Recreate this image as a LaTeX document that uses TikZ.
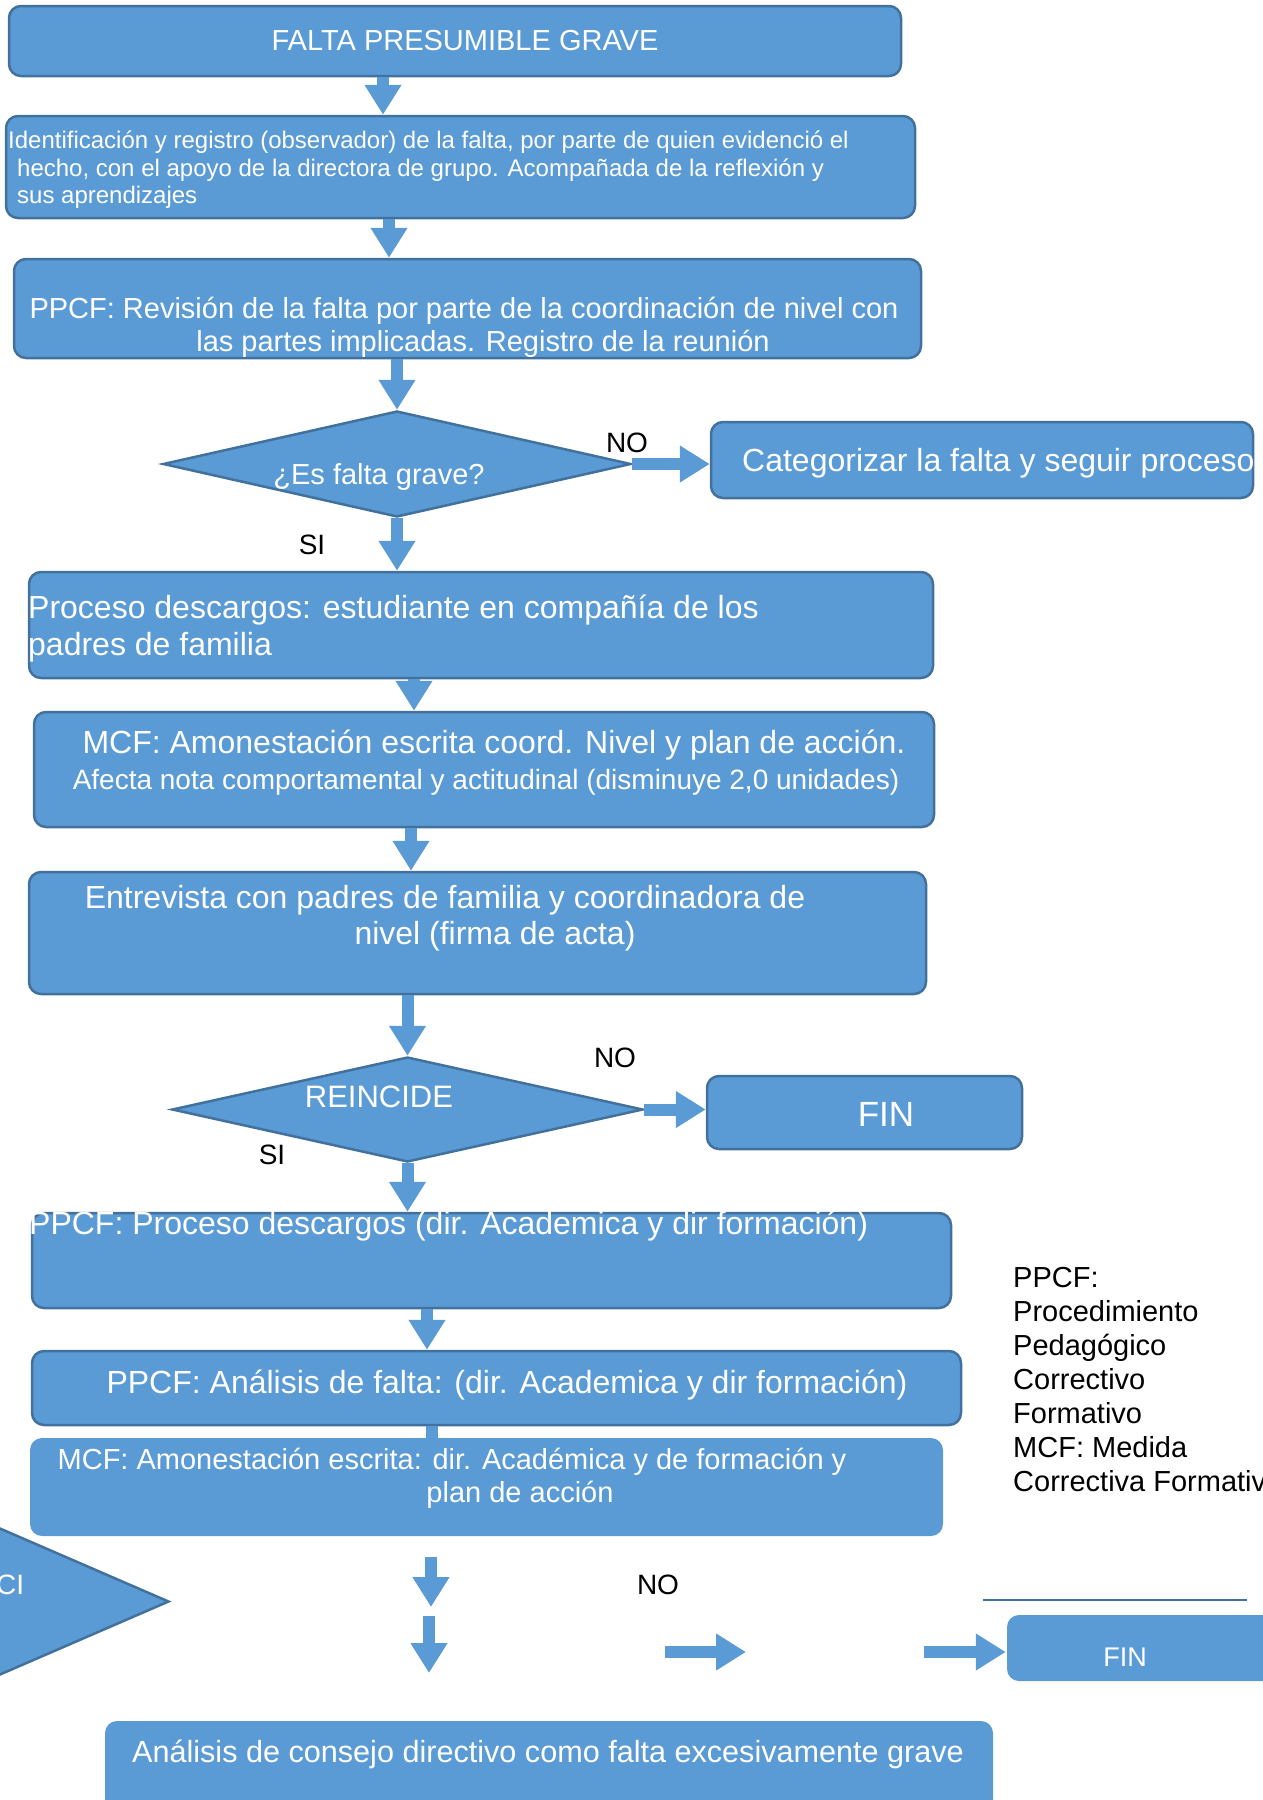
\documentclass[tikz,border=0pt]{standalone}
\usepackage{fontspec}
\setmainfont{Liberation Sans}
\usetikzlibrary{arrows.meta,shapes.geometric}
\definecolor{azul}{HTML}{5B9BD5}
\definecolor{borde}{HTML}{41719C}
\newcommand{\fsz}[2]{\fontsize{#1}{#2}\selectfont}

\begin{document}
\begin{tikzpicture}[x=1pt,y=-1pt,
  caja/.style={rectangle, rounded corners=12pt, fill=azul, draw=borde, line width=2.5pt, inner sep=0},
  cajasin/.style={caja, draw=none},
  rombo/.style={diamond, fill=azul, draw=borde, line width=2.5pt, inner sep=0},
  txt/.style={text=white, inner sep=0, yshift=-2.5pt},
  etq/.style={text=black, inner sep=0, font=\fsz{28}{32}},
  flecha/.style={azul, line width=12pt, -{Triangle[width=35pt,length=30pt]}}]
  \useasboundingbox (0,0) rectangle (1263,1800);
  \clip (0,0) rectangle (1263,1800);

  % cajas y rombos
  \node[caja, minimum width=892pt, minimum height=70pt] (b1) at (455,41) {};
  \node[caja, minimum width=909pt, minimum height=102pt] (b2) at (460.5,167) {};
  \node[caja, minimum width=907pt, minimum height=99pt] (b3) at (467.5,308.5) {};
  \node[rombo, minimum width=468pt, minimum height=106pt] (d1) at (397,464) {};
  \node[caja, minimum width=542pt, minimum height=76pt] (cat) at (982,460) {};
  \node[caja, minimum width=904pt, minimum height=106pt] (b4) at (481,625) {};
  \node[caja, minimum width=900pt, minimum height=115pt] (b5) at (484,769.5) {};
  \node[caja, minimum width=897pt, minimum height=122pt] (b6) at (477.5,933) {};
  \node[rombo, minimum width=471pt, minimum height=105pt] (d2) at (407.5,1109.5) {};
  \node[caja, minimum width=315pt, minimum height=73pt] (fin1) at (864.5,1112.5) {};
  \node[caja, minimum width=919pt, minimum height=95pt] (b7) at (491.5,1260.5) {};
  \node[caja, minimum width=929pt, minimum height=74pt] (b8) at (496.5,1388) {};
  \coordinate (a12fin) at (432,1470);
  \draw[flecha] (b8.south -| 432,0) -- (a12fin);
  \node[cajasin, minimum width=913pt, minimum height=98pt] (b9) at (486.5,1487) {};
  \node[rombo, minimum width=338pt, minimum height=147pt] (d3) at (0,1601.5) {};
  \node[cajasin, minimum width=283pt, minimum height=66pt] (fin2) at (1148.5,1648) {};
  \node[cajasin, minimum width=888pt, minimum height=109pt] (b10) at (549,1775.5) {};

  % flechas
  \draw[flecha] (b1.south -| 383,0) -- (b2.north -| 383,0);
  \draw[flecha] (b2.south -| 389,0) -- (b3.north -| 389,0);
  \draw[flecha] (b3.south -| d1.north) -- (d1.north);
  \draw[flecha] (d1.east) -- (cat.west |- d1.east);
  \draw[flecha] (d1.south) -- (b4.north -| d1.south);
  \draw[flecha] (b4.south -| 414,0) -- (b5.north -| 414,0);
  \draw[flecha] (b5.south -| 411,0) -- (b6.north -| 411,0);
  \draw[flecha] (b6.south -| d2.north) -- (d2.north);
  \draw[flecha] (d2.east) -- (fin1.west |- d2.east);
  \draw[flecha] (d2.south) -- (b7.north -| d2.south);
  \draw[flecha] (b7.south -| 427,0) -- (b8.north -| 427,0);

  \coordinate (p1a) at (431,1557);
  \coordinate (p1b) at (431,1607);
  \coordinate (p2a) at (429,1616);
  \coordinate (p2b) at (429,1673);
  \coordinate (p3a) at (665,1652);
  \coordinate (p3b) at (746,1652);
  \coordinate (p4a) at (924,1652);
  \draw[flecha] (p1a) -- (p1b);
  \draw[flecha] (p2a) -- (p2b);
  \draw[flecha] (p3a) -- (p3b);
  \draw[flecha] (p4a) -- (fin2.west |- p4a);

  \coordinate (r1) at (983,1600);
  \coordinate (r2) at (1247,1600);
  \draw[borde, line width=2.5pt] (r1) -- (r2);

  % textos
  \node[txt, font=\fsz{29}{33}] (t1) at (465,38) {FALTA PRESUMIBLE GRAVE};
  \node[txt, font=\fsz{24}{28}, anchor=west] (t2a) at (8,140) {Identificación y registro (observador) de la falta, por parte de quien evidenció el};
  \node[txt, font=\fsz{24}{28}, anchor=west] (t2b) at (17,168) {hecho, con el apoyo de la directora de grupo. Acompañada de la reflexión y};
  \node[txt, font=\fsz{24}{28}, anchor=west] (t2c) at (17,195) {sus aprendizajes};
  \node[txt, font=\fsz{29}{33}] (t3a) at (464,308) {PPCF: Revisión de la falta por parte de la coordinación de nivel con};
  \node[txt, font=\fsz{29}{33}] (t3b) at (483,341) {las partes implicadas. Registro de la reunión};
  \node[txt, font=\fsz{29}{33}] (t4) at (379,474) {¿Es falta grave?};
  \node[txt, font=\fsz{32}{36}, anchor=west] (t5) at (742,461) {Categorizar la falta y seguir proceso};
  \node[txt, font=\fsz{32}{36}, anchor=west] (t6a) at (28,608) {Proceso descargos: estudiante en compañía de los};
  \node[txt, font=\fsz{32}{36}, anchor=west] (t6b) at (28,645) {padres de familia};
  \node[txt, font=\fsz{32}{36}] (t7a) at (494,743) {MCF: Amonestación escrita coord. Nivel y plan de acción.};
  \node[txt, font=\fsz{28}{32}] (t7b) at (486,780) {Afecta nota comportamental y actitudinal (disminuye 2,0 unidades)};
  \node[txt, font=\fsz{32}{36}] (t8a) at (445,898) {Entrevista con padres de familia y coordinadora de};
  \node[txt, font=\fsz{32}{36}] (t8b) at (495,934) {nivel (firma de acta)};
  \node[txt, font=\fsz{31}{35}] (t9) at (379,1094) {REINCIDE};
  \node[txt, font=\fsz{35}{40}] (t10) at (886,1112) {FIN};
  \node[txt, font=\fsz{32}{36}, anchor=west] (t11) at (29,1224) {PPCF: Proceso descargos (dir. Academica y dir formación)};
  \node[txt, font=\fsz{32}{36}] (t12) at (507,1383) {PPCF: Análisis de falta: (dir. Academica y dir formación)};
  \node[txt, font=\fsz{29}{33}] (t13a) at (452,1459) {MCF: Amonestación escrita: dir. Académica y de formación y};
  \node[txt, font=\fsz{29}{33}] (t13b) at (520,1492) {plan de acción};
  \node[txt, font=\fsz{28}{32}, anchor=west] (t14) at (-4,1582) {CI};
  \node[txt, font=\fsz{27}{31}] (t15) at (1125,1655) {FIN};
  \node[txt, font=\fsz{30.6}{35}] (t16) at (548,1752) {Análisis de consejo directivo como falta excesivamente grave};

  \node[etq] (no1) at (627,443) {NO};
  \node[etq] (si1) at (312,545) {SI};
  \node[etq] (no2) at (615,1058) {NO};
  \node[etq] (si2) at (272,1155) {SI};
  \node[etq] (no3) at (658,1585) {NO};

  \node[anchor=north west, align=left, inner sep=0, font=\fsz{29}{34}] (leyenda) at (1013,1267)
    {PPCF:\\Procedimiento\\Pedagógico\\Correctivo\\Formativo\\MCF: Medida\\Correctiva Formativa};
\end{tikzpicture}
\end{document}
